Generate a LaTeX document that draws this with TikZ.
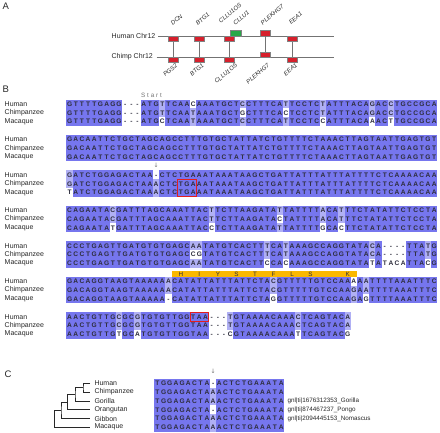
\documentclass[tikz,border=0pt]{standalone}
\usepackage{fontspec}
\setmainfont{Liberation Sans}
\newfontfamily\startfont[LetterSpace=30]{Liberation Sans}
\newfontfamily\symfont{DejaVu Sans}
\definecolor{aldark}{RGB}{118,118,238}
\definecolor{almid}{RGB}{176,176,244}
\definecolor{seqtext}{RGB}{45,45,60}
\definecolor{labtext}{RGB}{40,40,40}
\definecolor{genered}{RGB}{214,32,44}
\definecolor{genegreen}{RGB}{40,168,72}
\definecolor{boxgray}{RGB}{130,130,130}
\definecolor{linegray}{RGB}{115,115,115}
\definecolor{aaorange}{RGB}{250,184,0}
\definecolor{markred}{RGB}{228,30,30}
% ---- sequence storage ----
\newcount\seqn
\def\storeseq#1#2{\global\seqn=0 \def\seqrow{#1}\seqstorei#2\relax}
\def\seqstorei#1{\ifx\relax#1\else\global\advance\seqn by 1 \expandafter\xdef\csname sq:\seqrow:\the\seqn\endcsname{#1}\expandafter\seqstorei\fi}
\newcount\matchcnt
\def\dashchar{-}
\def\getcol#1#2#3#4{%
  \edef\curch{\csname sq:#1-#2:#3\endcsname}%
  \def\cellc{white}%
  \ifx\curch\dashchar\else
    \global\matchcnt=0
    \foreach \sj in {1,...,#4}{\edef\othch{\csname sq:#1-\sj:#3\endcsname}\ifx\curch\othch\global\advance\matchcnt by 1 \fi}%
    \ifnum\numexpr100*\matchcnt\relax>\numexpr80*#4\relax \def\cellc{aldark}\else
      \ifnum\numexpr100*\matchcnt\relax>\numexpr60*#4\relax \def\cellc{almid}\fi
    \fi
  \fi}
\storeseq{B1-1}{GTTTTGAGG---ATGTTCAACAAATGCTCCTTTCATTCCTCTATTTACAGACCTGCCGCA}
\storeseq{B1-2}{GTTTTGAGG---ATGTTCAATAAATGCTGCTTTCACTCCTCTATTTACAGACCTGCCGCA}
\storeseq{B1-3}{GTTTTGAGG---ATGCTCAATAAATGCTCCTTTCATTCCTCCATTTACAAACTTGCCGCA}
\storeseq{B2-1}{GACAATTCTGCTAGCAGCCTTTGTGCTATTATCTGTTTTCTAAACTTAGTAATTGAGTGT}
\storeseq{B2-2}{GACAATTCTGCTAGCAGCCTTTGTGCTATTATCTGTTTTCTAAACTTAGTAATTGAGTGT}
\storeseq{B2-3}{GACAATTCTGCTAGCAGCCTTTGTGCTATTATCTGTTTTCTAAACTTAGTAATTGAGTGT}
\storeseq{B3-1}{GATCTGGAGACTAA-CTCTGAAATAAATAAGCTGATTATTTATTTATTTTCTCAAAACAA}
\storeseq{B3-2}{GATCTGGAGACTAAACTCTGAAATAAATAAGCTGATTATTTATTTATTTTCTCAAAACAA}
\storeseq{B3-3}{TATCTGGAGACTAAACTCTGAAATAAATAAGCTGATTATTTATTTATTTTCTCAAAACAA}
\storeseq{B4-1}{CAGAATACGATTTAGCAAATTACTTCTTAAGATATTATTTTACATTTCTATATTCTCCTA}
\storeseq{B4-2}{CAGAATACGATTTAGCAAATTACTTCTTAAGATACTATTTTACATTTCTATATTCTCCTA}
\storeseq{B4-3}{CAGAATATGATTTAGCAAATTACCTCTTAAGATATTATTTTGCACTTCTATATTCTCCTA}
\storeseq{B5-1}{CCCTGAGTTGATGTGTGAGCAATATGTCACTTTCATAAAGCCAGGTATACA----TTATG}
\storeseq{B5-2}{CCCTGAGTTGATGTGTGAGCCGTATGTCACTTTCATAAAGCCAGGTATACA----TTATG}
\storeseq{B5-3}{CCCTGAGTTGATGTGTGAGCAATATGTCACTTCCACAAAGCCAGGTATATATACATTACG}
\storeseq{B6-1}{GACAGGTAAGTAAAAAACATATTATTTATTCTACGTTTTTGTCCAAAAATTTTAAATTTC}
\storeseq{B6-2}{GACAGGTAAGTAAAAAACATATTATTTATTCTACGTTTTTGTCCAAGAATTTTAAATTTC}
\storeseq{B6-3}{GACAGGTAAGTAAAAA-CATATTATTTATTCTAGGTTTTTGTCCAAGAGTTTTAAATTTC}
\storeseq{B7-1}{AACTGTTGCGCGTGTGTTGGTAA---TGTAAAACAAACTCAGTACA}
\storeseq{B7-2}{AACTGTTGCGCGTGTGTTGGTAA---TGTAAAACAAACTCAGTACA}
\storeseq{B7-3}{AACTGTTGTGCATGTGTTGGTAA---CGTAAAACAAATTCAGTACG}
\storeseq{C-1}{TGGAGACTA-ACTCTGAAATA}
\storeseq{C-2}{TGGAGACTAAACTCTGAAATA}
\storeseq{C-3}{TGGAGACTAAACTCTGAAATA}
\storeseq{C-4}{TGGAGACTA-ACTCTGAAATA}
\storeseq{C-5}{TGGAGACTAAACTCTGAAATA}
\storeseq{C-6}{TGGAGACTAAACTCTGAAATA}
\newcommand\seqfont{\fontsize{6.6}{7}\selectfont\bfseries}
\tikzset{
  seqch/.style={inner sep=0pt, text=seqtext, font=\seqfont, text height=4.8pt, text depth=0pt},
  rowlab/.style={anchor=west, inner sep=0pt, text=labtext, font=\fontsize{7}{8}\selectfont},
  chrlab/.style={anchor=east, inner sep=0pt, text=labtext, font=\fontsize{7}{8}\selectfont},
  panel/.style={anchor=west, inner sep=0pt, text=labtext, font=\fontsize{9.5}{10}\selectfont},
  gene/.style={draw=boxgray, fill=genered, minimum width=10pt, minimum height=5.3pt, inner sep=0pt, line width=0.6pt},
  genegr/.style={gene, fill=genegreen, minimum width=11pt},
  genetop/.style={anchor=south west, rotate=40, inner sep=0pt, text=labtext, font=\fontsize{6}{7}\selectfont\itshape},
  genebot/.style={anchor=north east, rotate=40, inner sep=0pt, text=labtext, font=\fontsize{6}{7}\selectfont\itshape},
  chrline/.style={draw=linegray, line width=0.9pt},
  conn/.style={draw=linegray, line width=0.9pt},
  markbox/.style={draw=markred, line width=0.9pt},
  tree/.style={draw=labtext, line width=0.7pt},
  gnl/.style={anchor=west, inner sep=0pt, text=labtext, font=\fontsize{6.3}{7}\selectfont},
  arr/.style={inner sep=0pt, text=linegray, font=\symfont\fontsize{6}{6}\selectfont},
}
\begin{document}
\begin{tikzpicture}[x=1pt,y=-1pt]
\useasboundingbox[fill=white] (0,0) rectangle (440,433);
% ================= Panel A =================
\node[panel] (pA) at (2.5,6) {A};
\node[chrlab] (hlab) at (155.5,35.6) {Human Chr12};
\node[chrlab] (clab) at (153,57) {Chimp Chr12};
\coordinate (hs) at (158.3,36);
\coordinate (he) at (334,36);
\coordinate (cs) at (156.5,57.3);
\coordinate (ce) at (334,57.3);
\draw[chrline] (hs) -- (he);
\draw[chrline] (cs) -- (ce);
\node[gene] (hDCN) at (173.3,38.7) {};
\node[gene] (hBTG1) at (199,38.7) {};
\node[gene] (hCLLU1OS) at (229.3,38.7) {};
\node[genegr] (hCLLU1) at (235.7,33.3) {};
\node[gene] (hPLEKHG7) at (265,33.3) {};
\node[gene] (hEEA1) at (292.7,38.7) {};
\node[gene] (cPGS2) at (173.3,59.9) {};
\node[gene] (cBTG1) at (199,59.9) {};
\node[gene] (cCLLU1OS) at (229.3,59.9) {};
\node[gene] (cPLEKHG7) at (265,54.6) {};
\node[gene] (cEEA1) at (292.7,59.9) {};
\draw[conn] (hDCN.south) -- (cPGS2.north);
\draw[conn] (hBTG1.south) -- (cBTG1.north);
\draw[conn] (hCLLU1OS.south) -- (cCLLU1OS.north);
\draw[conn] (hPLEKHG7.south) -- (cPLEKHG7.north);
\draw[conn] (hEEA1.south) -- (cEEA1.north);
\node[genetop] (tDCN) at (173,26) {DCN};
\node[genetop] (tBTG1) at (198,26) {BTG1};
\node[genetop] (tCLLU1OS) at (221,23.5) {CLLU1OS};
\node[genetop] (tCLLU1) at (235.5,26) {CLLU1};
\node[genetop] (tPLEKHG7) at (263,25.5) {PLEKHG7};
\node[genetop] (tEEA1) at (291,25) {EEA1};
\node[genebot] (bPGS2) at (175,62.8) {PGS2};
\node[genebot] (bBTG1) at (201.5,62.8) {BTG1};
\node[genebot] (bCLLU1OS) at (235,62.8) {CLLU1OS};
\node[genebot] (bPLEKHG7) at (267,62.8) {PLEKHG7};
\node[genebot] (bEEA1) at (295,62.8) {EEA1};
% ================= Panel B =================
\node[panel] (pB) at (2.5,89.5) {B};
\node[inner sep=0pt, text=linegray, font=\startfont\fontsize{6.3}{7}\selectfont] (start) at (151.5,95.2) {Start};
\node[arr] (arrB) at (156.1,165.5) {↓};
\foreach \blk/\len in {1/60,2/60,3/60,4/60,5/60,6/60,7/46}{
  \foreach \ri/\nm in {1/Human,2/Chimpanzee,3/Macaque}{
    \pgfmathsetmacro\yc{104+35.45*(\blk-1)+8.75*(\ri-1)}
    \node[rowlab] (lab\blk-\ri) at (4.5,\yc) {\nm};
    \foreach \ci in {1,...,\len}{
      \getcol{B\blk}{\ri}{\ci}{3}%
      \pgfmathsetmacro\xx{66.5+(\ci-0.5)*6.18}
      \fill[\cellc] (\xx-3.12,\yc-4.42) rectangle (\xx+3.12,\yc+4.42);
      \node[seqch] (b\blk r\ri c\ci) at (\xx,\yc) {\csname sq:B\blk-\ri:\ci\endcsname};
    }
  }
}
\draw[markbox] (177.7,179.3) rectangle (196.3,196.8);
\draw[markbox] (190.1,312.3) rectangle (208.6,321.1);
% amino-acid bar
\fill[aaorange] (171.6,270.6) rectangle (357,277.4);
\foreach \k/\aa in {1/H,2/I,3/Y,4/S,5/T,6/F,7/L,8/S,10/K}{
  \pgfmathsetmacro\xx{180.8+(\k-1)*18.54}
  \node[inner sep=0pt, text=seqtext, font=\fontsize{6.3}{7}\selectfont] (aa\k) at (\xx,274) {\aa};
}
% ================= Panel C =================
\node[panel] (pC) at (4.5,374) {C};
\node[arr] (arrC) at (213.1,371.8) {↓};
\foreach \ri/\nm in {1/Human,2/Chimpanzee,3/Gorilla,4/Orangutan,5/Gibbon,6/Macaque}{
  \pgfmathsetmacro\yc{383.3+8.8*(\ri-1)}
  \node[rowlab] (leaf\ri) at (94.3,\yc) {\nm};
  \foreach \ci in {1,...,21}{
    \getcol{C}{\ri}{\ci}{6}%
    \pgfmathsetmacro\xx{154.3+(\ci-0.5)*6.19}
    \fill[\cellc] (\xx-3.13,\yc-4.45) rectangle (\xx+3.13,\yc+4.45);
    \node[seqch] (c\ri c\ci) at (\xx,\yc) {\csname sq:C-\ri:\ci\endcsname};
  }
}
\node[gnl] (g3) at (287.3,400.9) {gnl|ti|1676312353\_Gorilla};
\node[gnl] (g4) at (287.3,409.7) {gnl|ti|874467237\_Pongo};
\node[gnl] (g5) at (287.3,418.5) {gnl|ti|2094445153\_Nomascus};
% tree
\coordinate (t1) at (83,387.7);
\coordinate (t2) at (75,394.3);
\coordinate (t3) at (67.5,402);
\coordinate (t4) at (61,410.25);
\coordinate (t5) at (54.3,418.8);
\draw[tree] ([xshift=-4.3pt]leaf1.west) -| (t1) |- ([xshift=-4.3pt]leaf2.west);
\draw[tree] (t1) -| (t2) |- ([xshift=-4.3pt]leaf3.west);
\draw[tree] (t2) -| (t3) |- ([xshift=-4.3pt]leaf4.west);
\draw[tree] (t3) -| (t4) |- ([xshift=-4.3pt]leaf5.west);
\draw[tree] (t4) -| (t5) |- ([xshift=-4.3pt]leaf6.west);
\end{tikzpicture}
\end{document}
